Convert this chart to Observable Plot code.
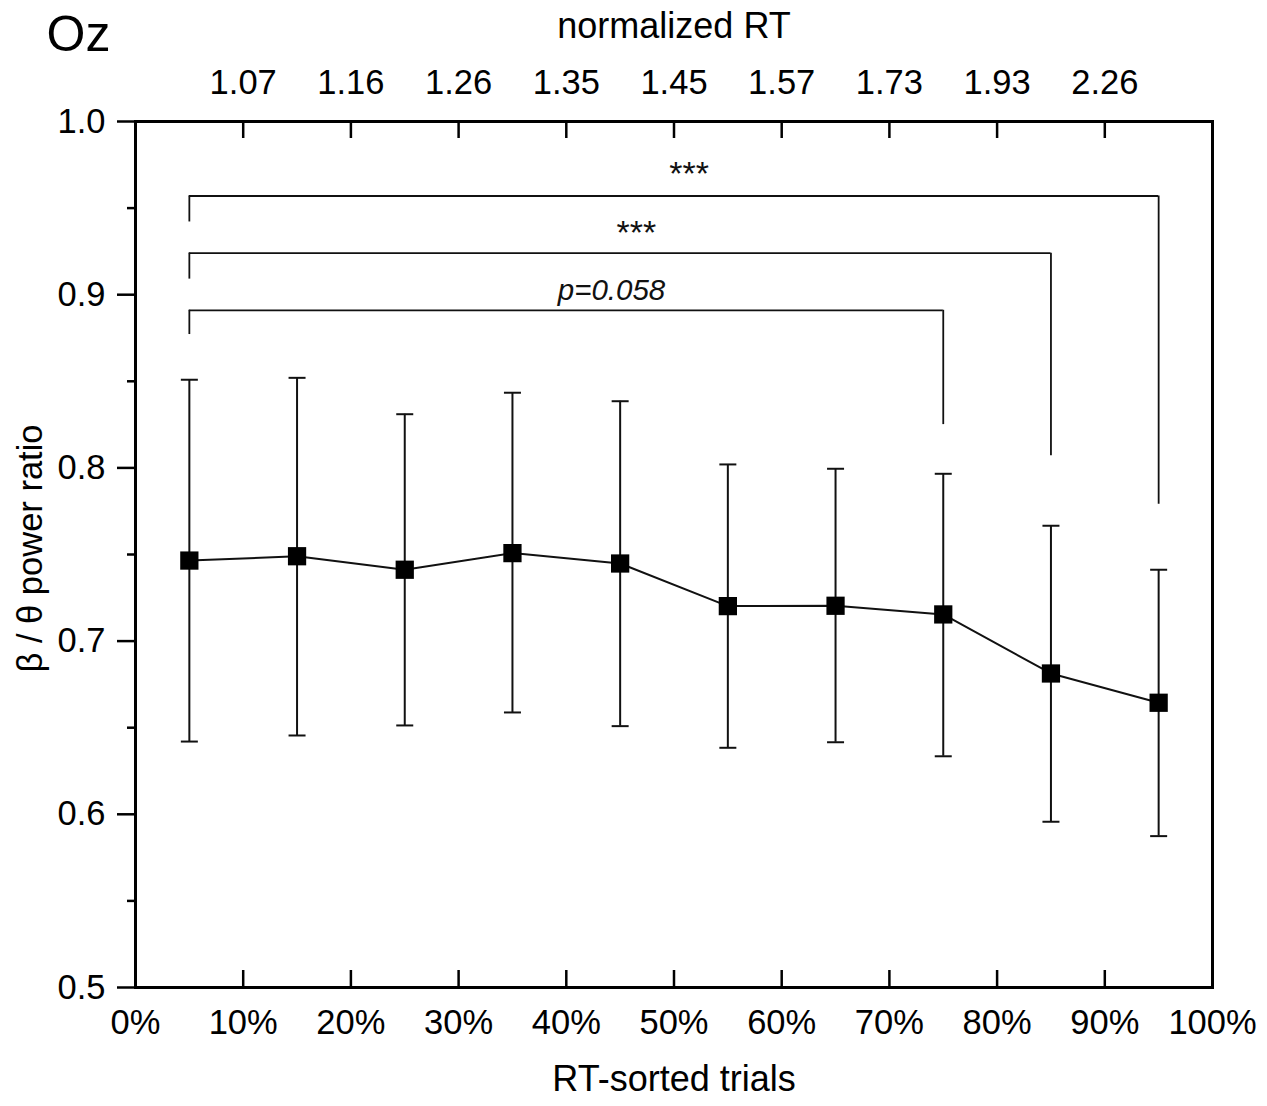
<!DOCTYPE html>
<html>
<head>
<meta charset="utf-8">
<script src="https://cdn.jsdelivr.net/npm/d3@7"></script>
<script src="https://cdn.jsdelivr.net/npm/@observablehq/plot@0.6"></script>
<style>
  body { margin: 0; background: #fff; }
</style>
</head>
<body>
<div id="chart"></div>
<script>
// ---- data ----
const percentiles = [5, 15, 25, 35, 45, 55, 65, 75, 85, 95];
const ratioMean  = [0.7465, 0.749, 0.7412, 0.7508, 0.7448, 0.7202, 0.7204, 0.7154, 0.6813, 0.6644];
const ratioUpper = [0.8509, 0.852, 0.831, 0.8434, 0.8385, 0.802, 0.7995, 0.7966, 0.7666, 0.7412];
const ratioLower = [0.642, 0.6455, 0.6513, 0.6588, 0.6509, 0.6384, 0.6416, 0.6335, 0.5957, 0.5874];

const xTicks = [0, 10, 20, 30, 40, 50, 60, 70, 80, 90, 100];
const xTickLabels = ["0%", "10%", "20%", "30%", "40%", "50%", "60%", "70%", "80%", "90%", "100%"];
const xInnerTicks = [10, 20, 30, 40, 50, 60, 70, 80, 90];
const topTicks = [10, 20, 30, 40, 50, 60, 70, 80, 90];
const topTickLabels = ["1.07", "1.16", "1.26", "1.35", "1.45", "1.57", "1.73", "1.93", "2.26"];
const yTicks = [0.5, 0.6, 0.7, 0.8, 0.9, 1.0];
const yMinorTicks = [0.55, 0.65, 0.75, 0.85, 0.95];

// significance brackets
const bracketFrom = [5, 5, 5];
const bracketTo = [95, 85, 75];
const bracketLevel = [0.957, 0.924, 0.891];
const bracketLeftEnd = [0.942, 0.909, 0.877];
const bracketRightEnd = [0.779, 0.807, 0.825];
const bracketLabel = ["***", "***", "p=0.058"];
const bracketLabelX = [51.4, 46.5, 44.2];
const bracketLabelY = [0.9697, 0.9356, 0.9022];
const bracketItalic = [false, false, true];

const panelLabel = "Oz";
const topTitle = "normalized RT";
const xTitle = "RT-sorted trials";
const yTitle = "β / θ power ratio";

// ---- chart ----
const idx = d3.range(percentiles.length);
const bIdx = d3.range(bracketFrom.length);
const FONT = '"Liberation Sans", Arial, Helvetica, sans-serif';
const capSymbol = {
  draw(context, size) {
    const r = Math.sqrt(size / Math.PI);
    context.moveTo(-r, 0);
    context.lineTo(r, 0);
  }
};

const frameH = 1106 - 121 - 119;

const chart = Plot.plot({
  width: 1267,
  height: 1106,
  marginTop: 121,
  marginBottom: 119,
  marginLeft: 135,
  marginRight: 55,
  style: { fontFamily: FONT, background: "white", color: "black" },
  x: { domain: [0, 100], axis: null },
  y: { domain: [0.5, 1.0], axis: null },
  marks: [
    // error bars
    Plot.ruleX(idx, { x: i => percentiles[i], y1: i => ratioLower[i], y2: i => ratioUpper[i], stroke: "#111", strokeWidth: 2 }),
    Plot.dot(idx, { x: i => percentiles[i], y: i => ratioUpper[i], symbol: capSymbol, r: 8.5, fill: "none", stroke: "#111", strokeWidth: 2 }),
    Plot.dot(idx, { x: i => percentiles[i], y: i => ratioLower[i], symbol: capSymbol, r: 8.5, fill: "none", stroke: "#111", strokeWidth: 2 }),
    // line + markers
    Plot.line(idx, { x: i => percentiles[i], y: i => ratioMean[i], stroke: "#111", strokeWidth: 2 }),
    Plot.dot(idx, { x: i => percentiles[i], y: i => ratioMean[i], symbol: "square", r: 10.3, fill: "black", stroke: "none" }),
    // brackets
    Plot.ruleY(bIdx, { y: i => bracketLevel[i], x1: i => bracketFrom[i], x2: i => bracketTo[i], stroke: "#111", strokeWidth: 1.8 }),
    Plot.ruleX(bIdx, { x: i => bracketFrom[i], y1: i => bracketLevel[i], y2: i => bracketLeftEnd[i], stroke: "#111", strokeWidth: 1.8 }),
    Plot.ruleX(bIdx, { x: i => bracketTo[i], y1: i => bracketLevel[i], y2: i => bracketRightEnd[i], stroke: "#111", strokeWidth: 1.8 }),
    Plot.text(bIdx.filter(i => !bracketItalic[i]), { x: i => bracketLabelX[i], y: i => bracketLabelY[i], text: i => bracketLabel[i], fontSize: 34, fill: "#111" }),
    Plot.text(bIdx.filter(i => bracketItalic[i]), { x: i => bracketLabelX[i], y: i => bracketLabelY[i], text: i => bracketLabel[i], fontSize: 29.5, fontStyle: "italic", fill: "#111" }),
    // frame
    Plot.frame({ stroke: "black", strokeWidth: 3 }),
    // y axis (outward ticks)
    Plot.axisY({ ticks: yTicks, tickSize: 18, tickPadding: 12, tickFormat: d => d.toFixed(1), fontSize: 34.5, strokeWidth: 2.5, label: null }),
    Plot.axisY({ ticks: yMinorTicks, tickSize: 8, tickFormat: () => "", strokeWidth: 2.5, label: null }),
    // x inward ticks bottom & top
    Plot.ruleX(xInnerTicks, { x: d => d, insetTop: frameH - 17, stroke: "black", strokeWidth: 2.5 }),
    Plot.ruleX(topTicks, { x: d => d, insetBottom: frameH - 17, stroke: "black", strokeWidth: 2.5 }),
    // tick labels
    Plot.text(xTicks, { x: d => d, text: (d, i) => xTickLabels[i], frameAnchor: "bottom", lineAnchor: "middle", dy: 35, fontSize: 34.5, fill: "black" }),
    Plot.text(topTicks, { x: d => d, text: (d, i) => topTickLabels[i], frameAnchor: "top", lineAnchor: "middle", dy: -39, fontSize: 34.5, fill: "black" }),
    // titles
    Plot.text([topTitle], { frameAnchor: "top", lineAnchor: "middle", dy: -95.5, fontSize: 36, fill: "black" }),
    Plot.text([xTitle], { frameAnchor: "bottom", lineAnchor: "middle", dy: 91.5, fontSize: 36, fill: "black" }),
    Plot.text([yTitle], { frameAnchor: "left", textAnchor: "middle", lineAnchor: "middle", dx: -105, dy: -6, rotate: -90, fontSize: 34.5, fill: "black" }),
    Plot.text([panelLabel], { frameAnchor: "top-left", textAnchor: "start", lineAnchor: "middle", dx: -89, dy: -87, fontSize: 50, fill: "black" })
  ]
});

document.getElementById("chart").appendChild(chart);
</script>
</body>
</html>
